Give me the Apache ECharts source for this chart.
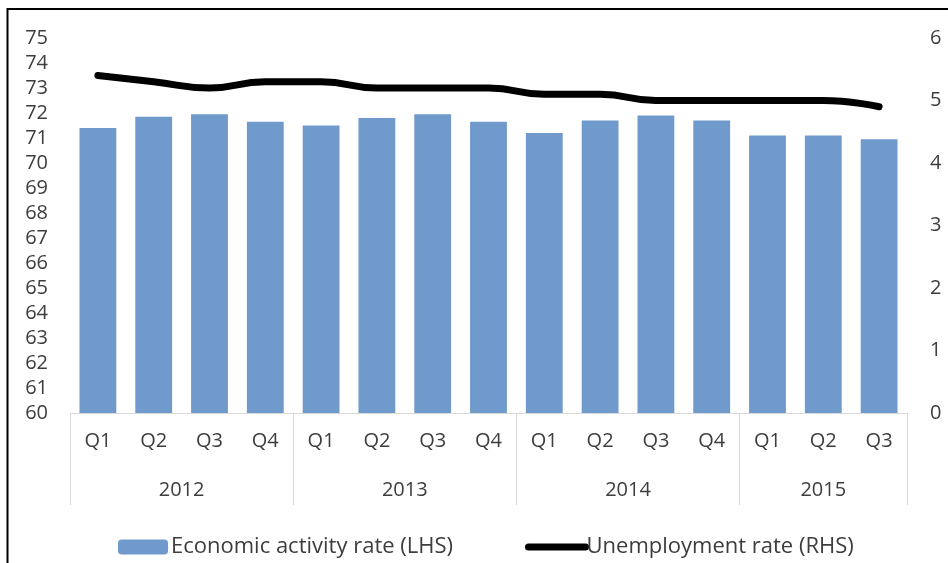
<!DOCTYPE html>
<html>
<head>
<meta charset="utf-8">
<script src="https://cdn.jsdelivr.net/npm/echarts@6/dist/echarts.min.js"></script>
<style>
  html, body { margin: 0; padding: 0; background: #fff; }
  #chart { width: 948px; height: 563px; }
</style>
</head>
<body>
<div id="chart"></div>
<script>
// Quarterly labour market indicators, 2012 Q1 – 2015 Q3
const quarters = ['Q1', 'Q2', 'Q3', 'Q4', 'Q1', 'Q2', 'Q3', 'Q4', 'Q1', 'Q2', 'Q3', 'Q4', 'Q1', 'Q2', 'Q3'];
const years = ['2012', '2013', '2014', '2015'];
const quartersPerYear = [4, 4, 4, 3];
const activityRate = [71.4, 71.85, 71.95, 71.65, 71.5, 71.8, 71.95, 71.65, 71.2, 71.7, 71.9, 71.7, 71.1, 71.1, 70.95];
const unemploymentRate = [5.4, 5.3, 5.2, 5.3, 5.3, 5.2, 5.2, 5.2, 5.1, 5.1, 5.0, 5.0, 5.0, 5.0, 4.9];
const leftTicks = { min: 60, max: 75, step: 1 };
const rightTicks = { min: 0, max: 6, step: 1 };

const seriesNames = ['Economic activity rate (LHS)', 'Unemployment rate (RHS)'];

// first quarter index of each year and the centre of each year group
const groupStarts = [];
const yearCentres = {};
let acc = 0;
quartersPerYear.forEach((n, i) => {
  groupStarts.push(acc);
  yearCentres[(acc + n / 2).toFixed(1)] = years[i];
  acc += n;
});

const textColor = '#3d3d3d';
const fontFamily = '"Open Sans", "Noto Sans", sans-serif';
const axisFont = 20;
const legendFont = 22;

const chart = echarts.init(document.getElementById('chart'), null, { renderer: 'canvas' });

chart.setOption({
  animation: false,
  backgroundColor: '#ffffff',
  textStyle: { fontFamily: fontFamily },
  grid: { left: 70, right: 41, top: 38, bottom: 150, containLabel: false },
  graphic: [
    { type: 'line', shape: { x1: 7.5, y1: 9, x2: 948, y2: 9 }, style: { stroke: '#000', lineWidth: 2 } },
    { type: 'line', shape: { x1: 7.5, y1: 8, x2: 7.5, y2: 563 }, style: { stroke: '#000', lineWidth: 2 } }
  ],
  legend: [
    {
      data: [seriesNames[0]],
      left: 113, top: 531,
      itemWidth: 50, itemHeight: 15, itemGap: 6,
      textStyle: { color: textColor, fontSize: legendFont, fontFamily: fontFamily, padding: [0, 0, 0, -2] }
    },
    {
      data: [seriesNames[1]],
      left: 520, top: 531,
      itemWidth: 57, itemHeight: 15, itemGap: 3,
      itemStyle: { opacity: 0 },
      lineStyle: { width: 7, cap: 'round' },
      textStyle: { color: textColor, fontSize: legendFont, fontFamily: fontFamily, padding: [0, 0, 0, -4] }
    }
  ],
  xAxis: [
    {
      type: 'category',
      data: quarters,
      position: 'bottom',
      axisLine: { lineStyle: { color: '#d9d9d9', width: 1 } },
      axisTick: {
        show: true,
        length: 92,
        interval: (idx) => groupStarts.indexOf(idx) >= 0,
        lineStyle: { color: '#d9d9d9', width: 1 }
      },
      axisLabel: { color: textColor, fontSize: axisFont, margin: 18, interval: 0 },
      splitLine: { show: false }
    },
    {
      // year group labels, placed at the middle of each group of quarters
      type: 'value',
      position: 'bottom',
      offset: 60,
      min: 0,
      max: quarters.length,
      interval: 0.5,
      axisLine: { show: false },
      axisTick: { show: false },
      splitLine: { show: false },
      axisLabel: {
        color: textColor, fontSize: axisFont, margin: 7,
        showMinLabel: true, showMaxLabel: true,
        formatter: (v) => yearCentres[Number(v).toFixed(1)] || ''
      }
    }
  ],
  yAxis: [
    {
      type: 'value',
      min: leftTicks.min, max: leftTicks.max, interval: leftTicks.step,
      position: 'left',
      axisLine: { show: false },
      axisTick: { show: false },
      splitLine: { show: false },
      axisLabel: { color: textColor, fontSize: axisFont, margin: 22 }
    },
    {
      type: 'value',
      min: rightTicks.min, max: rightTicks.max, interval: rightTicks.step,
      position: 'right',
      axisLine: { show: false },
      axisTick: { show: false },
      splitLine: { show: false },
      axisLabel: { color: textColor, fontSize: axisFont, margin: 23, align: 'left' }
    }
  ],
  series: [
    {
      name: seriesNames[0],
      type: 'bar',
      xAxisIndex: 0,
      yAxisIndex: 0,
      data: activityRate,
      barCategoryGap: '34%',
      itemStyle: { color: '#7099cc' }
    },
    {
      name: seriesNames[1],
      type: 'line',
      xAxisIndex: 0,
      yAxisIndex: 1,
      data: unemploymentRate,
      smooth: 0.5,
      symbol: 'none',
      lineStyle: { color: '#000000', width: 7, cap: 'round', join: 'round' },
      itemStyle: { color: '#000000' }
    }
  ]
});
</script>
</body>
</html>
